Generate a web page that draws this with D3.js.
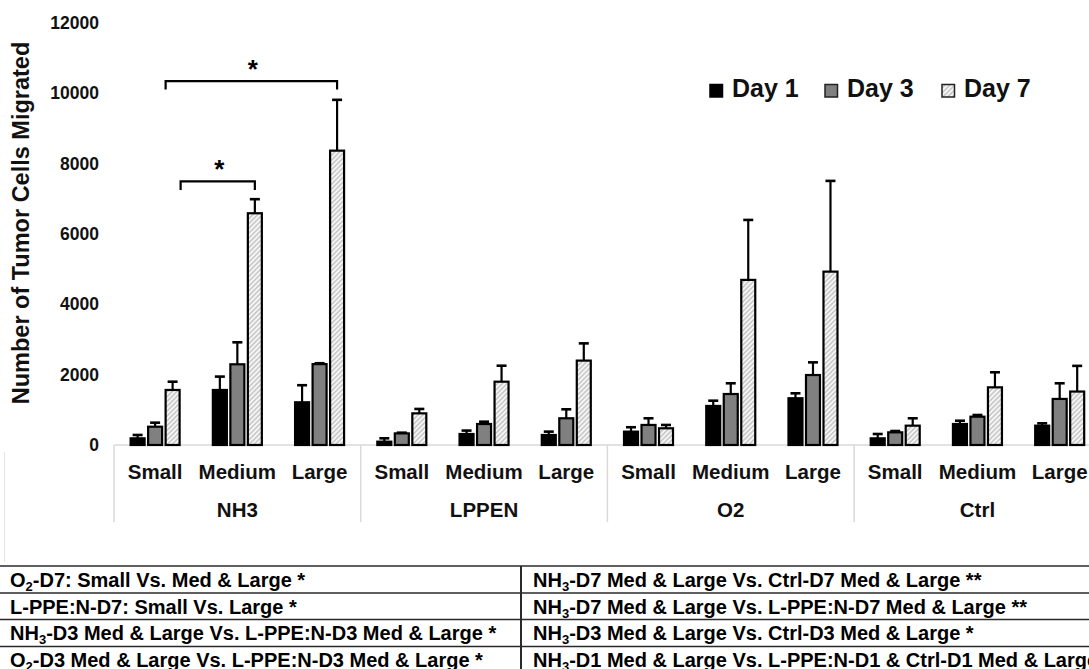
<!DOCTYPE html>
<html>
<head>
<meta charset="utf-8">
<script src="https://cdn.jsdelivr.net/npm/d3@7/dist/d3.min.js"></script>
<style>
  html, body { margin: 0; padding: 0; background: #fff; }
  svg { display: block; font-family: Arial, "Liberation Sans", sans-serif; font-weight: bold; }
</style>
</head>
<body>
<svg id="chart" width="1089" height="669"></svg>
<script>
// ---- data ----
const groups = ["NH3", "LPPEN", "O2", "Ctrl"];
const sizes = ["Small", "Medium", "Large"];
const days = ["Day 1", "Day 3", "Day 7"];
const yTicks = [0, 2000, 4000, 6000, 8000, 10000, 12000];

// values per group x size (NH3 S/M/L, LPPEN S/M/L, O2 S/M/L, Ctrl S/M/L)
const day1 = [190, 1565, 1215, 95, 313, 285, 380, 1110, 1330, 190, 597, 550];
const day1Err = [95, 380, 485, 95, 97, 95, 125, 150, 140, 123, 93, 67];
const day3 = [520, 2295, 2300, 330, 597, 760, 570, 1450, 1990, 360, 805, 1310];
const day3Err = [115, 625, 25, 20, 66, 255, 190, 305, 360, 38, 48, 445];
const day7 = [1565, 6590, 8370, 900, 1800, 2400, 475, 4695, 4930, 550, 1640, 1520];
const day7Err = [235, 400, 1445, 125, 455, 490, 95, 1705, 2580, 210, 428, 730];

// significance brackets (within NH3, Day 7)
const brackets = [
  { group: "NH3", from: "Small", to: "Large", level: 10350, label: "*" },
  { group: "NH3", from: "Small", to: "Medium", level: 7495, label: "*" }
];

const tableLeft = [
  [["O", ""], ["2", "sub"], ["-D7: Small Vs. Med & Large *", ""]],
  [["L-PPE:N-D7: Small Vs. Large *", ""]],
  [["NH", ""], ["3", "sub"], ["-D3 Med & Large Vs. L-PPE:N-D3 Med & Large *", ""]],
  [["O", ""], ["2", "sub"], ["-D3 Med & Large Vs. L-PPE:N-D3 Med & Large *", ""]]
];
const tableRight = [
  [["NH", ""], ["3", "sub"], ["-D7 Med & Large Vs. Ctrl-D7 Med & Large **", ""]],
  [["NH", ""], ["3", "sub"], ["-D7 Med & Large Vs. L-PPE:N-D7 Med & Large **", ""]],
  [["NH", ""], ["3", "sub"], ["-D3 Med & Large Vs. Ctrl-D3 Med & Large *", ""]],
  [["NH", ""], ["3", "sub"], ["-D1 Med & Large Vs. L-PPE:N-D1 & Ctrl-D1 Med & Large *", ""]]
];

// ---- build records ----
const seriesVals = [day1, day3, day7];
const seriesErr = [day1Err, day3Err, day7Err];
const records = [];
groups.forEach((g, gi) => sizes.forEach((s, si) => days.forEach((d, di) => {
  const idx = gi * 3 + si;
  records.push({ group: g, size: s, day: d, value: seriesVals[di][idx], err: seriesErr[di][idx] });
})));

const svg = d3.select("#chart");

// hatch pattern for Day 7
const defs = svg.append("defs");
const pat = defs.append("pattern")
  .attr("id", "hatch").attr("patternUnits", "userSpaceOnUse")
  .attr("width", 3.4).attr("height", 3.4)
  .attr("patternTransform", "rotate(45)");
pat.append("rect").attr("width", 3.4).attr("height", 3.4).attr("fill", "#f6f6f6");
pat.append("line").attr("x1", 0.8).attr("y1", 0).attr("x2", 0.8).attr("y2", 3.4)
  .attr("stroke", "#b4b4b4").attr("stroke-width", 1.1);

const fills = { "Day 1": "#000000", "Day 3": "#808080", "Day 7": "url(#hatch)" };

// ---- scales ----
const x0 = d3.scaleBand().domain(groups).range([114, 114 + 4 * 246.7]);
const xs = d3.scaleBand().domain(sizes).range([0, x0.bandwidth()]);
const xd = d3.scaleBand().domain(days).range([-24.5, 24.5]).paddingInner(0.2);
const y = d3.scaleLinear().domain([0, 12000]).range([445, 23]);

const center = (g, s) => x0(g) + xs(s) + xs.bandwidth() / 2;
const barX = r => center(r.group, r.size) + xd(r.day);
const barMid = r => barX(r) + xd.bandwidth() / 2;

// faint frame edge at left
svg.append("line").attr("x1", 4.5).attr("x2", 4.5).attr("y1", 452).attr("y2", 562)
  .attr("stroke", "#e4e4e4").attr("stroke-width", 1);

// ---- y axis ----
const yAxis = svg.append("g").attr("transform", "translate(102,0)")
  .call(d3.axisLeft(y).tickValues(yTicks).tickSize(0).tickPadding(3).tickFormat(d3.format("d")));
yAxis.select(".domain").remove();
yAxis.selectAll("text").attr("font-size", 17.5).attr("font-weight", "bold")
  .attr("font-family", "Arial, 'Liberation Sans', sans-serif").attr("fill", "#111");

svg.append("text")
  .attr("transform", "translate(29,223) rotate(-90)")
  .attr("text-anchor", "middle").attr("font-size", 23.5).attr("fill", "#111")
  .text("Number of Tumor Cells Migrated");

// ---- category axis ----
svg.append("line").attr("x1", x0.range()[0]).attr("x2", x0.range()[1])
  .attr("y1", y(0)).attr("y2", y(0)).attr("stroke", "#d9d9d9").attr("stroke-width", 1.5);
const bounds = groups.map(g => x0(g)).concat([x0.range()[1]]);
svg.selectAll("line.sep").data(bounds).join("line").attr("class", "sep")
  .attr("x1", d => d).attr("x2", d => d).attr("y1", y(0)).attr("y2", 522)
  .attr("stroke", "#d9d9d9").attr("stroke-width", 1.5);

const sizeLabels = [];
groups.forEach(g => sizes.forEach(s => sizeLabels.push({ g, s })));
svg.selectAll("text.size").data(sizeLabels).join("text").attr("class", "size")
  .attr("x", d => center(d.g, d.s)).attr("y", 478.5)
  .attr("text-anchor", "middle").attr("font-size", 20.5).attr("fill", "#111")
  .text(d => d.s);
svg.selectAll("text.grp").data(groups).join("text").attr("class", "grp")
  .attr("x", g => x0(g) + x0.bandwidth() / 2).attr("y", 517)
  .attr("text-anchor", "middle").attr("font-size", 20.5).attr("fill", "#111")
  .text(g => g);

// ---- bars ----
svg.append("g").selectAll("rect").data(records).join("rect")
  .attr("x", barX).attr("width", xd.bandwidth())
  .attr("y", r => y(r.value)).attr("height", r => y(0) - y(r.value))
  .attr("fill", r => fills[r.day]).attr("stroke", "#000").attr("stroke-width", 2.2);

// ---- error bars (upper) ----
const eb = svg.append("g").attr("stroke", "#000");
eb.selectAll("line.stem").data(records).join("line").attr("class", "stem")
  .attr("x1", barMid).attr("x2", barMid)
  .attr("y1", r => y(r.value)).attr("y2", r => y(r.value + r.err))
  .attr("stroke-width", 2.2);
eb.selectAll("line.cap").data(records).join("line").attr("class", "cap")
  .attr("x1", r => barMid(r) - 5).attr("x2", r => barMid(r) + 5)
  .attr("y1", r => y(r.value + r.err)).attr("y2", r => y(r.value + r.err))
  .attr("stroke-width", 2.6);

// ---- significance brackets ----
const d7x = (g, s) => center(g, s) + xd("Day 7");
brackets.forEach((b, i) => {
  const x1 = i === 0 ? d7x(b.group, b.from) : d7x(b.group, b.from) + xd.bandwidth() + 1;
  const x2 = d7x(b.group, b.to) + xd.bandwidth() / 2;
  const yl = y(b.level);
  svg.append("path")
    .attr("d", `M${x1},${yl + 8.5}V${yl}H${x2}V${yl + 8.5}`)
    .attr("fill", "none").attr("stroke", "#000").attr("stroke-width", 2.2);
  svg.append("text").attr("x", (x1 + x2) / 2 + 1.5).attr("y", yl - 3)
    .attr("text-anchor", "middle").attr("font-size", 26).attr("fill", "#000")
    .text(b.label);
});

// ---- legend ----
const legX = [710, 825, 942];
const leg = svg.append("g");
days.forEach((d, i) => {
  leg.append("rect").attr("x", legX[i]).attr("y", 84.5).attr("width", 12.5).attr("height", 12.5)
    .attr("fill", fills[d]).attr("stroke", d === "Day 1" ? "#000" : "#222").attr("stroke-width", 1.5);
  leg.append("text").attr("x", legX[i] + 22).attr("y", 96.7)
    .attr("font-size", 25).attr("fill", "#111").text(d);
});

// ---- statistics table ----
const rowLines = [566, 593, 619.5, 646.5];
const baselines = [587, 613.5, 640, 666.5];
svg.selectAll("line.row").data(rowLines).join("line").attr("class", "row")
  .attr("x1", 0).attr("x2", 1089).attr("y1", d => d).attr("y2", d => d)
  .attr("stroke", "#2a2a2a").attr("stroke-width", 1.6);
svg.append("line").attr("x1", 521).attr("x2", 521).attr("y1", 566).attr("y2", 669)
  .attr("stroke", "#2a2a2a").attr("stroke-width", 2);

function writeRow(parts, x, yb) {
  const t = svg.append("text").attr("x", x).attr("y", yb).attr("font-size", 20).attr("fill", "#000");
  parts.forEach(([txt, kind]) => {
    if (kind === "sub") {
      t.append("tspan").attr("font-size", 13).attr("dy", 4).text(txt);
    } else {
      const ts = t.append("tspan").text(txt);
      if (t.selectAll("tspan").size() > 1) ts.attr("dy", -4);
    }
  });
}
tableLeft.forEach((r, i) => writeRow(r, 10, baselines[i]));
tableRight.forEach((r, i) => writeRow(r, 533, baselines[i]));
</script>
</body>
</html>
